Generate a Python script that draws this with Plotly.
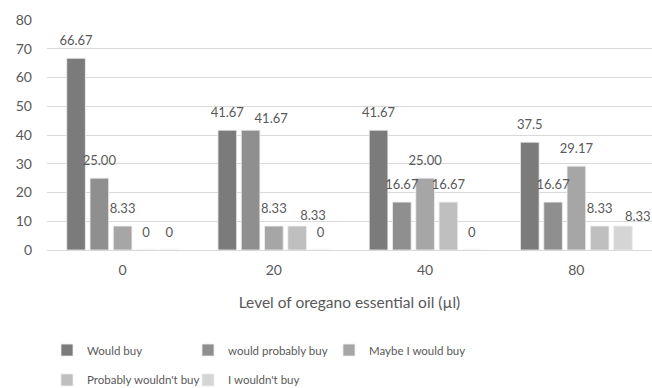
import plotly.graph_objects as go

categories = ["0", "20", "40", "80"]
series_names = ["Would buy", "would probably buy", "Maybe I would buy",
                "Probably wouldn't buy", "I wouldn't buy"]
would_buy = [66.67, 41.67, 41.67, 37.5]
would_probably_buy = [25.00, 41.67, 16.67, 16.67]
maybe_would_buy = [8.33, 8.33, 25.00, 29.17]
probably_wouldnt_buy = [0, 8.33, 16.67, 8.33]
wouldnt_buy = [0, 0, 0, 8.33]
labels = [
    ["66.67", "41.67", "41.67", "37.5"],
    ["25.00", "41.67", "16.67", "16.67"],
    ["8.33", "8.33", "25.00", "29.17"],
    ["0", "8.33", "16.67", "8.33"],
    ["0", "0", "0", "8.33"],
]
y_ticks = [0, 10, 20, 30, 40, 50, 60, 70, 80]

series_values = [would_buy, would_probably_buy, maybe_would_buy,
                 probably_wouldnt_buy, wouldnt_buy]

# style: label placement (some labels nudged sideways to avoid overlaps, as in the original)
label_pos = [
    ["top center"] * 4,
    ["top center", "top right", "top center", "top center"],
    ["top center"] * 4,
    ["top center", "top right", "top center", "top center"],
    ["top center", "top center", "top center", "top right"],
]
label_gap = [
    [14.4] * 4,
    [14.4, 4.8, 14.4, 14.4],
    [14.4] * 4,
    [14.4, 3.2, 14.4, 14.4],
    [14.4, 14.4, 14.4, 1.6],
]
colors = ["#7b7b7b", "#8f8f8f", "#a6a6a6", "#bfbfbf", "#d5d5d5"]
legend_ids = ["legend", "legend", "legend", "legend2", "legend2"]

FONT = "Lato, 'Open Sans', sans-serif"
GRAY = "#595959"
BARGAP = 0.23

fig = go.Figure()
for name, vals, col, lg in zip(series_names, series_values, colors, legend_ids):
    fig.add_trace(go.Bar(
        name=name, x=categories, y=vals,
        marker=dict(color=col, line=dict(color="#eeeeee", width=0.8)),
        legend=lg,
    ))
for name, vals, txt, pos, gap in zip(series_names, series_values, labels, label_pos, label_gap):
    fig.add_trace(go.Scatter(
        name=name, x=categories, y=vals, text=txt, mode="markers+text",
        textposition=pos, cliponaxis=False, showlegend=False, hoverinfo="skip",
        marker=dict(size=gap, color="rgba(0,0,0,0)", opacity=0,
                    line=dict(width=0, color="rgba(0,0,0,0)")),
        textfont=dict(family=FONT, size=13, color=GRAY),
    ))

fig.update_layout(
    width=652, height=388,
    margin=dict(l=47, r=0, t=20, b=138, autoexpand=False),
    paper_bgcolor="white", plot_bgcolor="white",
    barmode="group", bargap=BARGAP, bargroupgap=0.2,
    scattermode="group", scattergap=BARGAP,
    font=dict(family=FONT, size=14, color=GRAY),
    showlegend=True,
    legend=dict(orientation="h", x=0.0, xanchor="left", y=-0.435, yanchor="middle",
                xref="paper", yref="paper",
                entrywidth=96, entrywidthmode="pixels",
                font=dict(family=FONT, size=11.5, color=GRAY),
                itemclick=False),
    legend2=dict(orientation="h", x=0.0, xanchor="left", y=-0.565, yanchor="middle",
                 xref="paper", yref="paper",
                 entrywidth=96, entrywidthmode="pixels",
                 font=dict(family=FONT, size=11.5, color=GRAY)),
    xaxis=dict(
        title=dict(text="Level of oregano essential oil (µl)",
                   font=dict(family=FONT, size=15.5, color=GRAY), standoff=20),
        tickfont=dict(family=FONT, size=14, color=GRAY),
        showline=False, ticks="", showgrid=False, ticklabelstandoff=10,
    ),
    yaxis=dict(
        range=[0, 80], tickvals=y_ticks,
        tickfont=dict(family=FONT, size=14, color=GRAY),
        showgrid=True, gridcolor="#d9d9d9", gridwidth=1,
        zeroline=True, zerolinecolor="#d9d9d9", zerolinewidth=1,
        ticks="", showline=False, ticklabelstandoff=14,
    ),
)

fig.write_html("out.html")
